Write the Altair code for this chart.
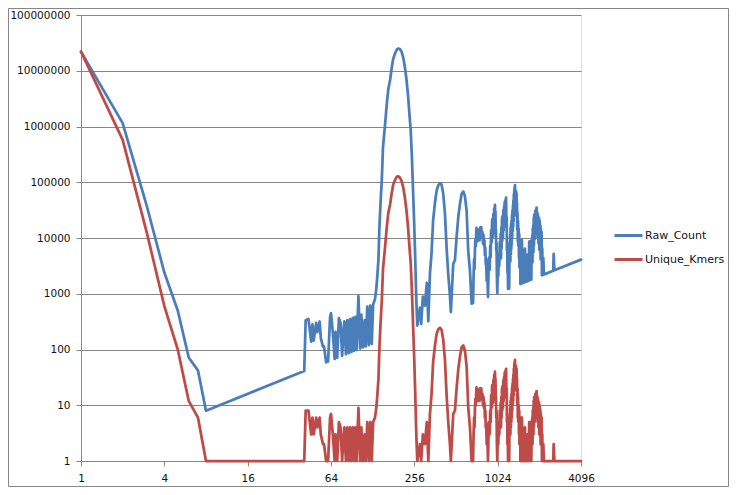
import altair as alt
import pandas as pd

# k-mer multiplicity (x axis)
X = [1, 2, 3, 4, 5, 6, 7, 8,
     41, 42, 44, 46, 47, 48, 50, 51, 53, 54, 56, 57, 59, 61, 63, 64, 66, 68, 69, 71,
     73, 75, 77, 79, 80, 82, 84, 86, 88, 90, 92, 94, 96, 98, 101, 104, 106, 109,
     112, 114, 117, 120, 123, 126, 129, 133, 136, 138, 141, 143, 146, 149, 152, 157,
     162, 166, 171, 175, 180, 185, 191, 196, 202, 207, 213, 219, 225, 231, 236, 241,
     246, 251, 255, 259, 263, 266, 269,
     281, 287, 295, 305, 315, 323, 332, 341, 350, 361, 371, 381, 392, 403, 414, 426,
     438, 450, 463, 470, 489, 503, 517, 532, 547, 562, 578, 594, 611, 628, 646, 664,
     680, 686, 692, 697, 702, 707, 712, 716, 720, 725, 730, 735, 740, 746, 752, 758,
     765, 772, 780, 787, 795, 802, 809, 815, 822, 828, 834, 840, 846, 853, 862, 872,
     880, 888, 896, 905, 911, 918, 926, 934, 939, 944, 948, 953, 959, 966, 972, 979,
     983, 987, 992, 996, 1000, 1005, 1011, 1018, 1026, 1035, 1043, 1052, 1061, 1070,
     1076, 1082, 1088, 1093, 1100, 1105, 1110, 1118, 1125, 1132, 1140, 1145, 1150,
     1155, 1160, 1165, 1170, 1174, 1178, 1184, 1190, 1195, 1200, 1205, 1210, 1218,
     1224, 1230, 1235, 1240, 1248, 1256, 1261, 1265, 1270, 1275, 1280, 1285, 1290,
     1293, 1300, 1305, 1310, 1315, 1322, 1326, 1330, 1335, 1340, 1345, 1350, 1354,
     1358, 1362, 1366, 1372, 1378, 1384, 1390, 1396, 1402, 1406, 1412, 1418, 1425,
     1432, 1438, 1445, 1452, 1460, 1466, 1472, 1478, 1484, 1490, 1495, 1500, 1505,
     1510, 1515, 1520, 1527, 1533, 1540, 1545, 1550, 1556, 1562, 1570, 1578, 1590,
     1600, 1613, 1622, 1630, 1645, 1660, 1672, 1680, 1692, 1706, 1718, 1730, 1740,
     1752, 1758, 1765, 1775, 1785, 1793, 1802, 1810, 1820, 1828, 1836, 1844, 1852,
     1858, 1865, 1872, 1880, 1885, 1890, 1897, 1904, 1910, 1917, 1923, 1930, 1937,
     1945, 1951, 1957, 1963, 1970, 1977, 1985, 1992, 2000, 2006, 2012, 2019, 2025,
     2033, 2040, 2047, 2055, 2062, 2070, 2078, 2085, 2092, 2100, 2108, 2115, 2122,
     2128, 2138, 2150, 2165, 2188, 2210, 2249, 2580, 2600, 2630, 4096]

RAW_COUNT = [22000000, 1150000, 36000, 2400, 500, 72, 42, 8,
     41, 336, 352, 138, 282, 144, 300, 204, 318, 162, 112, 114, 59, 61, 378, 448, 198, 68, 207, 71,
     365, 300, 77, 237, 320, 82, 336, 86, 352, 90, 368, 94, 384, 98, 909, 104, 424, 109,
     336, 114, 585, 120, 615, 126, 645, 798, 1224, 1932, 4230, 14300, 43800, 111750, 425600, 1020500,
     2592000, 4648000, 6840000, 10500000, 16200000, 19980000, 23875000, 25088000, 24240000, 21942000, 17040000, 11388000, 6750000, 3395700, 1652000, 867600,
     270600, 62750, 20400, 5698, 1315, 532, 269,
     562, 287, 885, 610, 1575, 323, 2324, 5456, 21000, 43320, 70490, 87630, 96040, 90675, 62100, 27690,
     6570, 2250, 926, 470, 3423, 4024, 10340, 23940, 41025, 61820, 68204, 56430, 30550, 5652, 2584, 664,
     680, 2058, 4152, 2788, 6318, 9191, 7120, 11456, 15120, 10150, 13140, 8820, 14060, 9698, 12784, 9096,
     15300, 11580, 15600, 10231, 12720, 8020, 11326, 7335, 9042, 4968, 6672, 3360, 4230, 1706, 2586, 872,
     2640, 4440, 2688, 7240, 4555, 13770, 8334, 21482, 11268, 18880, 10428, 26684, 15344, 33810, 19440, 39160,
     21626, 29610, 11904, 13944, 6000, 8040, 2022, 1018, 3078, 2070, 5215, 3156, 8488, 4280,
     11836, 4328, 15232, 6558, 22000, 8840, 24420, 10062, 31500, 13584, 36480, 16030, 43700,
     18480, 46400, 23300, 49140, 25828, 53010, 16576, 23800, 5975, 8400, 2410, 3630, 1218,
     4896, 2460, 6175, 1240, 7488, 3768, 11349, 3795, 15240, 5100, 17920, 6425, 20640,
     7758, 26000, 10440, 31440, 13150, 39660, 15912, 46550, 20025, 60300, 24210, 74250, 33850,
     81480, 40860, 88790, 38416, 71656, 30448, 69500, 27920, 63090, 25308, 42360, 14180, 28500,
     8592, 20132, 7225, 14520, 4380, 11728, 2944, 8868, 2968, 7450, 1495, 6000, 3010,
     9060, 1515, 7600, 3054, 9198, 3080, 6180, 1550, 4668, 1562, 4710, 1578, 3180,
     1600, 6452, 1622, 3260, 1645, 1660, 3344, 5040, 1692, 3412, 1718, 8650, 3480,
     8760, 1758, 5295, 1775, 7140, 1793, 9010, 3620, 10920, 3656, 14688, 5532, 16668,
     5574, 22380, 7488, 26320, 9425, 24570, 9485, 26656, 11460, 30672, 11538, 30880, 13559,
     33065, 13657, 35226, 15704, 29550, 11862, 27790, 9960, 26000, 10030, 24144, 8076, 22275,
     8132, 22440, 6141, 20550, 6186, 18630, 6234, 16680, 4184, 14700, 4216, 12690, 4244,
     12768, 2138, 6450, 2165, 4376, 2210, 2249, 2580, 5200, 2630, 4096]

UNIQUE_KMERS = [22000000, 575000, 12000, 600, 100, 12, 6, 1,
     1, 8, 8, 3, 6, 3, 6, 4, 6, 3, 2, 2, 1, 1, 6, 7, 3, 1, 3, 1,
     5, 4, 1, 3, 4, 1, 4, 1, 4, 1, 4, 1, 4, 1, 9, 1, 4, 1,
     3, 1, 5, 1, 5, 1, 5, 6, 9, 14, 30, 100, 300, 750, 2800, 6500,
     16000, 28000, 40000, 60000, 90000, 108000, 125000, 128000, 120000, 106000, 80000, 52000, 30000, 14700, 7000, 3600,
     1100, 250, 80, 22, 5, 2, 1,
     2, 1, 3, 2, 5, 1, 7, 16, 60, 120, 190, 230, 245, 225, 150, 65,
     15, 5, 2, 1, 7, 8, 20, 45, 75, 110, 118, 95, 50, 9, 4, 1,
     1, 3, 6, 4, 9, 13, 10, 16, 21, 14, 18, 12, 19, 13, 17, 12,
     20, 15, 20, 13, 16, 10, 14, 9, 11, 6, 8, 4, 5, 2, 3, 1,
     3, 5, 3, 8, 5, 15, 9, 23, 12, 20, 11, 28, 16, 35, 20, 40,
     22, 30, 12, 14, 6, 8, 2, 1, 3, 2, 5, 3, 8, 4,
     11, 4, 14, 6, 20, 8, 22, 9, 28, 12, 32, 14, 38,
     16, 40, 20, 42, 22, 45, 14, 20, 5, 7, 2, 3, 1,
     4, 2, 5, 1, 6, 3, 9, 3, 12, 4, 14, 5, 16,
     6, 20, 8, 24, 10, 30, 12, 35, 15, 45, 18, 55, 25,
     60, 30, 65, 28, 52, 22, 50, 20, 45, 18, 30, 10, 20,
     6, 14, 5, 10, 3, 8, 2, 6, 2, 5, 1, 4, 2,
     6, 1, 5, 2, 6, 2, 4, 1, 3, 1, 3, 1, 2,
     1, 4, 1, 2, 1, 1, 2, 3, 1, 2, 1, 5, 2,
     5, 1, 3, 1, 4, 1, 5, 2, 6, 2, 8, 3, 9,
     3, 12, 4, 14, 5, 13, 5, 14, 6, 16, 6, 16, 7,
     17, 7, 18, 8, 15, 6, 14, 5, 13, 5, 12, 4, 11,
     4, 11, 3, 10, 3, 9, 3, 8, 2, 7, 2, 6, 2,
     6, 1, 3, 1, 2, 1, 1, 1, 2, 1, 1]

SERIES = ["Raw_Count", "Unique_Kmers"]
COLORS = ["#4A7EBB", "#BE4B48"]
X_TICKS = [1, 4, 16, 64, 256, 1024, 4096]
Y_TICKS = [1, 10, 100, 1000, 10000, 100000, 1000000, 10000000, 100000000]

assert len(X) == len(RAW_COUNT) == len(UNIQUE_KMERS)

df = pd.concat([
    pd.DataFrame({"x": X, "value": RAW_COUNT, "series": SERIES[0]}),
    pd.DataFrame({"x": X, "value": UNIQUE_KMERS, "series": SERIES[1]}),
], ignore_index=True)

GRAY = "#868686"
FONT = "DejaVu Sans"

lines = alt.Chart(df).mark_line(
    strokeWidth=2.75, strokeJoin="round", strokeCap="round"
).encode(
    x=alt.X("x:Q",
            scale=alt.Scale(type="log", base=2, domain=[1, 4096], nice=False),
            axis=alt.Axis(values=X_TICKS, format="d", title=None, grid=False,
                          tickSize=5, tickColor=GRAY, domainColor=GRAY,
                          labelPadding=7, labelFont=FONT, labelFontSize=10.5,
                          labelColor="#111111", labelOverlap=False, labelFlush=False)),
    y=alt.Y("value:Q",
            scale=alt.Scale(type="log", base=10, domain=[1, 100000000], nice=False),
            axis=alt.Axis(values=Y_TICKS, format="d", title=None, grid=True,
                          gridColor=GRAY, gridWidth=1, tickSize=5, tickColor=GRAY,
                          domainColor=GRAY, labelPadding=6, labelFont=FONT,
                          labelFontSize=10.5, labelColor="#111111", labelOverlap=False)),
    color=alt.Color("series:N",
                    scale=alt.Scale(domain=SERIES, range=COLORS),
                    legend=alt.Legend(title=None, orient="none", legendX=532, legendY=205,
                                      symbolType="stroke", symbolSize=784,
                                      symbolStrokeWidth=3, labelFont=FONT,
                                      labelFontSize=11, labelColor="#111111",
                                      labelOffset=1, rowPadding=2, padding=0)),
)

border = alt.Chart(pd.DataFrame({"b": [0]})).mark_rect(
    fillOpacity=0, stroke=GRAY, strokeWidth=1
).encode(
    x=alt.value(-72.5), x2=alt.value(647.5), y=alt.value(-6.5), y2=alt.value(471.5)
)

chart = alt.layer(border, lines).properties(
    width=500, height=446,
    autosize=alt.AutoSizeParams(type="none"),
    padding={"left": 73, "top": 7, "right": 148, "bottom": 26},
).configure_view(stroke=None).configure(background="white")

chart.save("out.html", embed_options={"renderer": "svg", "actions": False})
